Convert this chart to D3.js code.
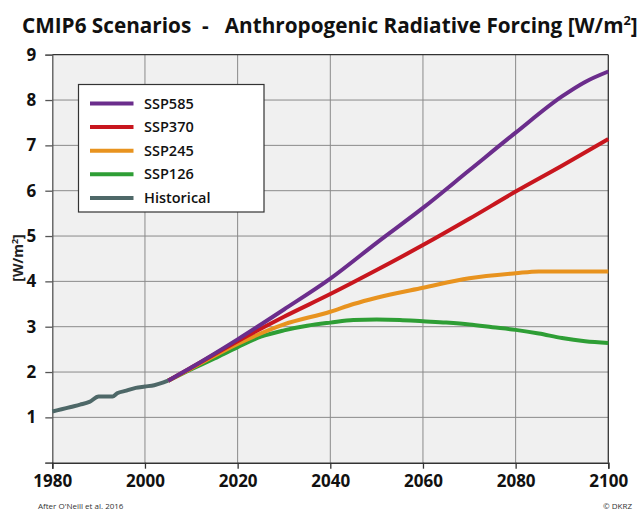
<!DOCTYPE html>
<meta charset="utf-8">
<script src="https://d3js.org/d3.v7.min.js"></script>
<style>
  body { margin: 0; background: #fff; }
  text { font-family: "Open Sans", "DejaVu Sans", sans-serif; }
</style>
<div id="chart"></div>
<script>
// data
var histYears = [1980, 1982, 1984, 1986, 1988, 1990, 1992, 1993, 1994, 1996, 1998, 2000, 2002, 2004, 2005];
var histValues = [1.13, 1.18, 1.23, 1.28, 1.34, 1.46, 1.46, 1.46, 1.53, 1.59, 1.65, 1.68, 1.71, 1.77, 1.81];

var ssp585Years = [2005, 2010, 2020, 2030, 2040, 2050, 2060, 2070, 2080, 2090, 2095, 2100];
var ssp585Values = [1.81, 2.10, 2.72, 3.38, 4.06, 4.85, 5.62, 6.45, 7.28, 8.08, 8.40, 8.63];

var ssp370Years = [2005, 2010, 2020, 2030, 2040, 2050, 2060, 2070, 2080, 2090, 2100];
var ssp370Values = [1.81, 2.10, 2.68, 3.22, 3.72, 4.25, 4.80, 5.38, 5.98, 6.55, 7.14];

var ssp245Years = [2005, 2010, 2020, 2030, 2040, 2045, 2050, 2060, 2070, 2080, 2085, 2090, 2100];
var ssp245Values = [1.81, 2.08, 2.62, 3.05, 3.33, 3.50, 3.64, 3.86, 4.07, 4.18, 4.22, 4.22, 4.22];

var ssp126Years = [2005, 2010, 2015, 2020, 2025, 2030, 2035, 2040, 2045, 2050, 2055, 2060, 2065, 2070, 2075, 2080, 2085, 2090, 2095, 2100];
var ssp126Values = [1.81, 2.06, 2.30, 2.55, 2.78, 2.92, 3.02, 3.09, 3.15, 3.16, 3.15, 3.12, 3.09, 3.05, 2.99, 2.93, 2.85, 2.75, 2.68, 2.64];

var xTicks = [1980, 2000, 2020, 2040, 2060, 2080, 2100];
var yTicks = [0, 1, 2, 3, 4, 5, 6, 7, 8, 9];

var legendNames = ["SSP585", "SSP370", "SSP245", "SSP126", "Historical"];
var colors = ["#6b2d8c", "#c8161e", "#e8931f", "#2e9e35", "#4e6868"];

var width = 642, height = 510;
var margin = { top: 54.7, right: 33.7, bottom: 47.3, left: 52.3 };
var w = width - margin.left - margin.right,
    h = height - margin.top - margin.bottom;

var svg = d3.select("#chart").append("svg")
    .attr("width", width)
    .attr("height", height);

// title (stretched to the reference width)
var titleG = svg.append("g");
var title = titleG.append("text")
    .attr("x", 0).attr("y", 0)
    .attr("font-size", 21).attr("font-weight", 700)
    .attr("fill", "#111")
    .style("white-space", "pre");
title.append("tspan").text("CMIP6 Scenarios  -   Anthropogenic Radiative Forcing [W/m");
title.append("tspan").attr("dy", -8).attr("font-size", 13).text("2");
title.append("tspan").attr("dy", 8).text("]");
var tw = title.node().getBBox().width;
titleG.attr("transform", "translate(22,33) scale(" + (616 / tw) + ",1)");

var g = svg.append("g")
    .attr("transform", "translate(" + margin.left + "," + margin.top + ")");

var x = d3.scaleLinear().domain([1980, 2100]).range([0, w]);
var y = d3.scaleLinear().domain([0, 9]).range([h, 0]);

// plot background
g.append("rect")
    .attr("width", w).attr("height", h)
    .attr("fill", "#f0f0f0");

// grid
g.append("g")
    .selectAll("line")
    .data(xTicks.slice(1, -1))
    .enter().append("line")
    .attr("x1", d => x(d)).attr("x2", d => x(d))
    .attr("y1", 0).attr("y2", h)
    .attr("stroke", "#8a8a8a").attr("stroke-width", 1);
g.append("g")
    .selectAll("line")
    .data(yTicks.slice(1, -1))
    .enter().append("line")
    .attr("x1", 0).attr("x2", w)
    .attr("y1", d => y(d)).attr("y2", d => y(d))
    .attr("stroke", "#8a8a8a").attr("stroke-width", 1);

// frame top/right
g.append("line").attr("x1", 0).attr("x2", w).attr("y1", 0).attr("y2", 0)
    .attr("stroke", "#333").attr("stroke-width", 1.3);
g.append("line").attr("x1", w).attr("x2", w).attr("y1", 0).attr("y2", h)
    .attr("stroke", "#333").attr("stroke-width", 1.3);

// axes
var yAxis = g.append("g")
    .call(d3.axisLeft(y).tickValues(yTicks).tickSize(7).tickPadding(9).tickFormat(d => d === 0 ? "" : d));
yAxis.select(".domain").attr("stroke", "#555").attr("stroke-width", 1.3);
yAxis.selectAll(".tick line").attr("stroke", "#555").attr("stroke-width", 1.3);
yAxis.selectAll("text")
    .attr("font-family", "'Open Sans', sans-serif")
    .attr("font-size", 17).attr("font-weight", 700).attr("fill", "#111");

var xAxis = g.append("g")
    .attr("transform", "translate(0," + h + ")")
    .call(d3.axisBottom(x).tickValues(xTicks).tickSize(6).tickPadding(6).tickFormat(d3.format("d")));
xAxis.select(".domain").attr("stroke", "#333").attr("stroke-width", 1.5);
xAxis.selectAll(".tick line").attr("stroke", "#333").attr("stroke-width", 1.3);
xAxis.selectAll("text")
    .attr("font-family", "'Open Sans', sans-serif")
    .attr("font-size", 17).attr("font-weight", 700).attr("fill", "#111");

// y axis label
var ylab = svg.append("text")
    .attr("transform", "translate(23,258) rotate(-90)")
    .attr("text-anchor", "middle")
    .attr("font-size", 14).attr("font-weight", 700).attr("fill", "#222");
ylab.append("tspan").text("[W/m");
ylab.append("tspan").attr("dy", -5).attr("font-size", 9).text("2");
ylab.append("tspan").attr("dy", 5).text("]");

// lines
var line = d3.line()
    .x(d => x(d[0]))
    .y(d => y(d[1]))
    .curve(d3.curveMonotoneX);

var series = [
    { years: ssp126Years, values: ssp126Values, color: colors[3] },
    { years: ssp245Years, values: ssp245Values, color: colors[2] },
    { years: ssp370Years, values: ssp370Values, color: colors[1] },
    { years: ssp585Years, values: ssp585Values, color: colors[0] },
    { years: histYears, values: histValues, color: colors[4] }
];

g.selectAll("path.series")
    .data(series)
    .enter().append("path")
    .attr("class", "series")
    .attr("fill", "none")
    .attr("stroke", d => d.color)
    .attr("stroke-width", 4)
    .attr("stroke-linejoin", "round")
    .attr("d", d => line(d.years.map((yr, i) => [yr, d.values[i]])));

// legend
var legend = svg.append("g").attr("transform", "translate(78.5,84.5)");
legend.append("rect")
    .attr("width", 185.5).attr("height", 127.5)
    .attr("fill", "#fff").attr("stroke", "#333").attr("stroke-width", 1.2);

var items = legend.selectAll("g.item")
    .data(legendNames)
    .enter().append("g")
    .attr("transform", (d, i) => "translate(0," + (19 + i * 23.6) + ")");
items.append("line")
    .attr("x1", 11.5).attr("x2", 55)
    .attr("stroke", (d, i) => colors[i])
    .attr("stroke-width", 4);
items.append("text")
    .attr("x", 65.5).attr("dy", "0.35em")
    .attr("font-size", 14.5).attr("font-weight", 600).attr("fill", "#111")
    .text(d => d);

// footnotes
svg.append("text")
    .attr("x", 38).attr("y", 509)
    .attr("font-size", 8).attr("fill", "#333")
    .text("After O'Neill et al. 2016");
svg.append("text")
    .attr("x", 632).attr("y", 509)
    .attr("text-anchor", "end")
    .attr("font-size", 8).attr("fill", "#333")
    .text("© DKRZ");
</script>
